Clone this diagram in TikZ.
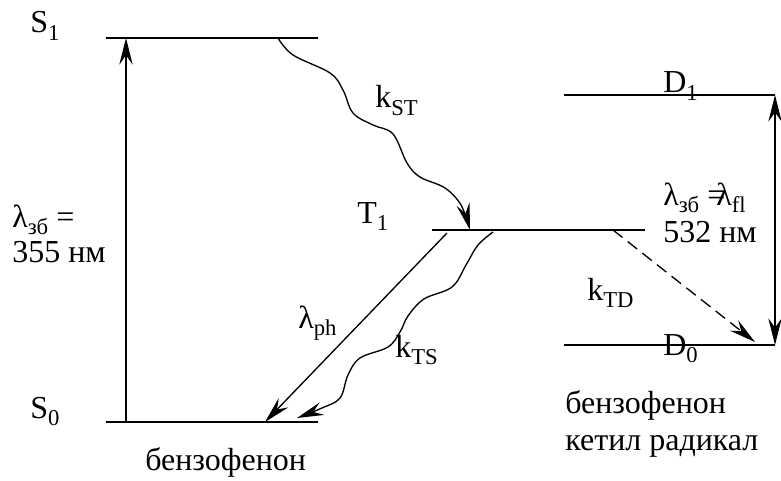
\documentclass[tikz,border=0pt]{standalone}
\usepackage{fontspec}
\setmainfont{Liberation Serif}
\usetikzlibrary{arrows.meta}
\newcommand{\sbs}[1]{\raisebox{-0.22em}{\fontsize{17}{17}\selectfont #1}}
\begin{document}
\begin{tikzpicture}[x=0.75pt,y=-0.75pt,
  lvl/.style={line width=1pt},
  conn/.style={line width=1pt,-{Stealth[length=20pt,width=10pt,inset=7pt]}},
  dconn/.style={line width=1pt,{Stealth[length=20pt,width=10pt,inset=7pt]}-{Stealth[length=20pt,width=10pt,inset=7pt]}},
  lbl/.style={font=\fontsize{24}{28}\selectfont, inner sep=0pt, anchor=base west}]
\useasboundingbox (0,0) rectangle (781,481);

% level endpoints
\coordinate (s1l) at (106,38);  \coordinate (s1r) at (318,38);
\coordinate (s0l) at (106,422); \coordinate (s0r) at (318,422);
\coordinate (t1l) at (432,230); \coordinate (t1r) at (645,230);
\coordinate (d1l) at (564,95);  \coordinate (d1r) at (775,95);
\coordinate (d0l) at (564,345); \coordinate (d0r) at (775,345);

\draw[lvl] (s1l) -- (s1r);
\draw[lvl] (s0l) -- (s0r);
\draw[lvl] (t1l) -- (t1r);
\draw[lvl] (d1l) -- (d1r);
\draw[lvl] (d0l) -- (d0r);

% labels
\node[lbl] (S1) at (30,33) {S\sbs{1}};
\node[lbl] (S0) at (30,418) {S\sbs{0}};
\node[lbl] (T1) at (357,223) {T\sbs{1}};
\node[lbl] (D1) at (663,93) {D\sbs{1}};
\node[lbl] (D0) at (663,355) {D\sbs{0}};
\node[lbl] (lex) at (12,227) {λ\sbs{зб} =};
\node[lbl] (l355) at (12,262) {355 нм};
\node[lbl] (lfl) at (663,205) {λ\sbs{зб} =\kern-0.28emλ\sbs{fl}};
\node[lbl] (l532) at (663,242) {532 нм};
\node[lbl] (kST) at (375,108) {k\sbs{ST}};
\node[lbl] (lph) at (298,328) {λ\sbs{ph}};
\node[lbl] (kTS) at (395,357) {k\sbs{TS}};
\node[lbl] (kTD) at (587,300) {k\sbs{TD}};
\node[lbl] (benz) at (145,470) {бензофенон};
\node[lbl] (benz2) at (565,413) {бензофенон};
\node[lbl] (ketil) at (565,450) {кетил радикал};

% excitation arrows
\coordinate (exa) at (126,422); \coordinate (exb) at (126,38);
\draw[conn] (exa) -- (exb);
\coordinate (fla) at (775,95); \coordinate (flb) at (775,345);
\draw[dconn] (fla) -- (flb);

% ISC S1 -> T1 (wavy)
\coordinate (sta) at (278,38); \coordinate (stb) at (470,230);
\draw[conn] plot[smooth, tension=0.6] coordinates {(sta) (293,55) (330,73) (343,90) (353,113) (373,125) (393,134) (407,163) (420,177) (445,188) (461,205) (stb)};

% phosphorescence
\coordinate (pha) at (447,233); \coordinate (phb) at (265,422);
\draw[conn] (pha) -- (phb);

% ISC T1 -> S0 (wavy)
\coordinate (tsa) at (493,232); \coordinate (tsb) at (297,418);
\draw[conn] plot[smooth, tension=0.6] coordinates {(tsa) (478,245) (466,265) (452,287) (424,299) (408,316) (400,332) (388,347) (360,358) (348,375) (340,398) (322,408) (tsb)};

% T1 -> D0 dashed
\coordinate (tda) at (613,230); \coordinate (tdb) at (755,342);
\draw[conn, dash pattern=on 9pt off 5pt] (tda) -- (tdb);
\end{tikzpicture}
\end{document}
